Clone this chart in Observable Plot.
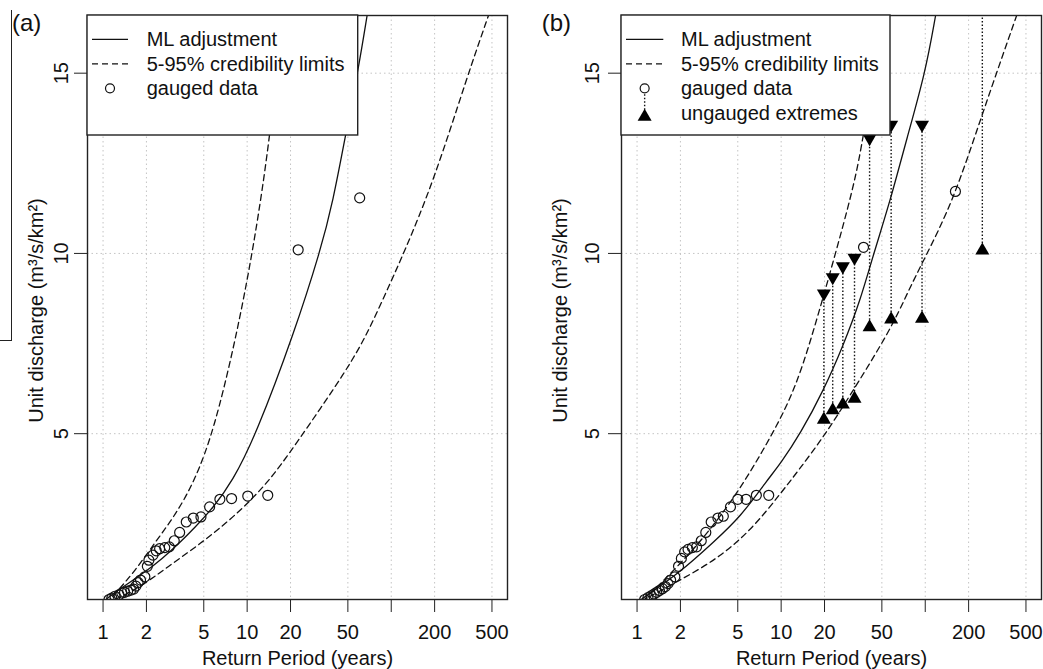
<!DOCTYPE html>
<html><head><meta charset="utf-8">
<script src="https://cdn.jsdelivr.net/npm/d3@7"></script>
<script src="https://cdn.jsdelivr.net/npm/@observablehq/plot@0.6"></script>
<style>
body{margin:0;background:#fff;font-family:"Liberation Sans",Arial,sans-serif;}
#wrap{position:relative;width:1043px;height:669px;overflow:hidden;background:#fff;}
#pa{position:absolute;left:0;top:0;}
#pb{position:absolute;left:520px;top:0;}
.artifact{position:absolute;left:0;top:10px;width:11px;height:330px;border-right:1.3px solid #222;border-bottom:1.3px solid #222;}
</style></head><body>
<div id="wrap"><div id="pa"></div><div id="pb"></div><div class="artifact"></div></div>
<script>
// ---- axis ticks ----
const xTicks = [1, 2, 5, 10, 20, 50, 100, 200, 500];
const xTickLabels = ["1", "2", "5", "10", "20", "50", "", "200", "500"];
const yTicks = [5, 10, 15];
const xLabel = "Return Period (years)";
const yLabel = "Unit discharge (m³/s/km²)";
const legendLabels = ["ML adjustment", "5-95% credibility limits", "gauged data", "ungauged extremes"];

// ---- panel (a) ----
const gaugedA_T = [60.4, 22.6, 13.9, 10.1, 7.8, 6.47, 5.49, 4.78, 4.23, 3.78, 3.40, 3.12, 2.88, 2.68, 2.47, 2.34, 2.22, 2.08, 2.03, 1.95, 1.82, 1.75, 1.69, 1.63, 1.56, 1.48, 1.41, 1.35, 1.29, 1.21, 1.15, 1.10];
const gaugedA_Q = [11.54, 10.1, 3.29, 3.27, 3.2, 3.18, 2.97, 2.69, 2.66, 2.55, 2.26, 2.03, 1.86, 1.84, 1.81, 1.75, 1.63, 1.49, 1.32, 1.03, 0.94, 0.87, 0.77, 0.69, 0.66, 0.63, 0.6, 0.58, 0.53, 0.49, 0.44, 0.4];
const mlA_T = [1.01, 1.04, 1.98, 2.58, 3.36, 4.39, 5.73, 7.88, 11.6, 21.1, 32.3, 39.5, 48.1, 59.4, 68];
const mlA_Q = [0.3, 0.43, 1.17, 1.54, 1.95, 2.42, 2.92, 3.66, 5.0, 7.77, 10.08, 11.46, 13.26, 15.16, 16.6];
const upA_T = [1.05, 1.22, 1.68, 2.33, 3.2, 4.35, 5.87, 8.3, 11.1, 14.5, 17.5];
const upA_Q = [0.3, 0.57, 1.21, 2.02, 2.76, 3.71, 5.09, 7.58, 10.17, 13.26, 16.6];
const loA_T = [1.05, 1.19, 1.82, 2.8, 4.75, 8.09, 13.8, 21.1, 50, 70, 99, 122, 197, 335, 473];
const loA_Q = [0.3, 0.38, 0.75, 1.3, 1.95, 2.69, 3.61, 4.63, 6.8, 7.86, 9.2, 10.0, 12.0, 14.88, 16.6];

// ---- panel (b) ----
const gaugedB_T = [162, 37.3, 8.2, 6.73, 5.71, 5.0, 4.45, 3.97, 3.64, 3.27, 3.0, 2.79, 2.59, 2.42, 2.26, 2.14, 2.03, 1.94, 1.83, 1.71, 1.64, 1.57, 1.5, 1.43, 1.37, 1.31, 1.25, 1.19, 1.13];
const gaugedB_Q = [11.72, 10.17, 3.29, 3.29, 3.18, 3.18, 2.97, 2.71, 2.66, 2.55, 2.26, 2.03, 1.86, 1.84, 1.79, 1.72, 1.54, 1.32, 1.03, 0.94, 0.84, 0.76, 0.7, 0.65, 0.6, 0.55, 0.5, 0.45, 0.4];
const mlB_T = [1.02, 1.06, 1.95, 3.41, 5.22, 8.0, 9.9, 13.6, 19.7, 27, 35.4, 43.8, 57.2, 74.6, 100, 118];
const mlB_Q = [0.33, 0.4, 1.12, 2.0, 2.69, 3.71, 4.17, 5.0, 6.2, 7.45, 8.69, 9.99, 11.46, 13.2, 15.0, 16.6];
const upB_T = [1.1, 1.24, 2.01, 3.07, 4.96, 8.0, 12.2, 16.4, 23.1, 31.8, 37.3, 50];
const upB_Q = [0.35, 0.57, 1.4, 2.23, 3.34, 4.72, 6.11, 7.7, 9.8, 11.83, 13.22, 16.6];
const loB_T = [1.06, 1.12, 2.0, 3.8, 6.46, 9.9, 13.2, 20, 28.6, 57.2, 76.5, 97.2, 157, 253, 431];
const loB_Q = [0.33, 0.4, 0.94, 1.58, 2.41, 3.34, 3.98, 4.95, 5.92, 7.86, 8.97, 9.8, 11.46, 13.96, 16.6];
const ungT  = [19.8, 22.8, 26.8, 32.3, 41.1, 58, 95, 249];
const ungLo = [5.39, 5.65, 5.81, 5.97, 7.95, 8.17, 8.19, 10.08];
const ungHi = [8.89, 9.34, 9.64, 9.88, 13.2, 13.57, 13.57, 18];

const FONT = '"Liberation Sans", Arial, Helvetica, sans-serif';
const tbl = (T, Q) => T.map((t, i) => ({T: t, q: Q[i]}));

function panel(cfg) {
  const marks = [
    Plot.gridX(xTicks, {stroke: "#c4c4c4", strokeOpacity: 1, strokeDasharray: "1.5,3", strokeWidth: 1}),
    Plot.gridY(yTicks, {stroke: "#c4c4c4", strokeOpacity: 1, strokeDasharray: "1.5,3", strokeWidth: 1}),
    Plot.line(tbl(cfg.mlT, cfg.mlQ), {x: "T", y: "q", stroke: "#111", strokeWidth: 1.3, curve: "basis", clip: true}),
    Plot.line(tbl(cfg.upT, cfg.upQ), {x: "T", y: "q", stroke: "#111", strokeWidth: 1.3, strokeDasharray: "6,4", curve: "basis", clip: true}),
    Plot.line(tbl(cfg.loT, cfg.loQ), {x: "T", y: "q", stroke: "#111", strokeWidth: 1.3, strokeDasharray: "6,4", curve: "basis", clip: true}),
  ];
  if (cfg.ung) {
    const u = cfg.ung.T.map((t, i) => ({T: t, lo: cfg.ung.lo[i], hi: cfg.ung.hi[i]}));
    marks.push(
      Plot.ruleX(u, {x: "T", y1: "lo", y2: "hi", stroke: "#111", strokeWidth: 1.4, strokeDasharray: "1.5,2", clip: true}),
      Plot.dot(u, {x: "T", y: "lo", symbol: "triangle", r: 5.2, fill: "#000", stroke: "none", clip: true}),
      Plot.dot(u, {x: "T", y: "hi", symbol: "triangle", rotate: 180, r: 5.2, fill: "#000", stroke: "none", clip: true})
    );
  }
  marks.push(
    Plot.dot(tbl(cfg.gT, cfg.gQ), {x: "T", y: "q", r: 5, stroke: "#111", strokeWidth: 1.2, fill: "none", clip: true}),
    Plot.axisX({ticks: xTicks, tickSize: 13, tickFormat: () => "", label: null, stroke: "#222"}),
    Plot.axisY({ticks: yTicks, tickSize: 13, tickFormat: () => "", label: null, stroke: "#222"}),
    Plot.text(xTicks, {x: d => d, text: (d, i) => xTickLabels[i], frameAnchor: "bottom", dy: 33, textAnchor: "middle", lineAnchor: "middle", fontSize: 20, fill: "#111"}),
    Plot.text(yTicks, {y: d => d, text: d => String(d), frameAnchor: "left", dx: -cfg.yTickOff, rotate: -90, textAnchor: "middle", lineAnchor: "middle", fontSize: 20, fill: "#111"}),
    Plot.text([xLabel], {text: d => d, frameAnchor: "bottom", dy: 59, textAnchor: "middle", lineAnchor: "middle", fontSize: 20, fill: "#111"}),
    Plot.text([yLabel], {text: d => d, frameAnchor: "left", dx: -cfg.yLabOff, dy: 3, rotate: -90, textAnchor: "middle", lineAnchor: "middle", fontSize: 20, fill: "#111"}),
    Plot.frame({stroke: "#222", strokeWidth: 1.4})
  );
  const svg = Plot.plot({
    width: cfg.width, height: 669,
    marginLeft: cfg.ml, marginRight: cfg.mr, marginTop: 15, marginBottom: 70,
    x: {type: "log", domain: [0.78, 641]},
    y: {domain: [0.4, 16.6]},
    style: {fontFamily: FONT, fontSize: "20px", background: "transparent", color: "#111"},
    marks
  });
  // legend box (drawn over the plot, like R's legend())
  const s = d3.select(svg);
  const L = cfg.legend;
  const g = s.append("g").attr("font-family", FONT).attr("font-size", 20).attr("fill", "#111").attr("text-anchor", "start");
  g.append("rect").attr("x", L.x0).attr("y", 15).attr("width", L.x1 - L.x0).attr("height", 120)
    .attr("fill", "white").attr("stroke", "#222").attr("stroke-width", 1.4);
  const rowY = i => 39.3 + i * 24.5;
  const cx = (L.s0 + L.s1) / 2;
  L.rows.forEach((lab, i) => {
    const y = rowY(i);
    if (i === 0) g.append("line").attr("x1", L.s0).attr("x2", L.s1).attr("y1", y).attr("y2", y).attr("stroke", "#111").attr("stroke-width", 1.3);
    if (i === 1) g.append("line").attr("x1", L.s0).attr("x2", L.s1).attr("y1", y).attr("y2", y).attr("stroke", "#111").attr("stroke-width", 1.3).attr("stroke-dasharray", "6,4");
    if (i === 2) g.append("circle").attr("cx", cx).attr("cy", y).attr("r", 4.5).attr("fill", "none").attr("stroke", "#111").attr("stroke-width", 1.2);
    if (i === 3) {
      g.append("line").attr("x1", cx).attr("x2", cx).attr("y1", rowY(2) + 6).attr("y2", y).attr("stroke", "#111").attr("stroke-width", 1.4).attr("stroke-dasharray", "1.5,2");
      g.append("path").attr("d", d3.symbol(d3.symbolTriangle, Math.PI * 5.2 * 5.2)()).attr("transform", `translate(${cx},${y + 4})`).attr("fill", "#000");
    }
    g.append("text").attr("x", L.tx).attr("y", y + 7).attr("text-anchor", "start").text(lab);
  });
  s.append("text").attr("x", cfg.tagX).attr("y", 31).attr("text-anchor", "start").attr("font-family", FONT).attr("font-size", 24).attr("fill", "#111").text(cfg.tag);
  return svg;
}

document.getElementById("pa").appendChild(panel({
  width: 520, ml: 87, mr: 13, yTickOff: 26, yLabOff: 51,
  gT: gaugedA_T, gQ: gaugedA_Q, mlT: mlA_T, mlQ: mlA_Q, upT: upA_T, upQ: upA_Q, loT: loA_T, loQ: loA_Q,
  legend: {x0: 87, x1: 357.7, s0: 92, s1: 128, tx: 146.7, rows: legendLabels.slice(0, 3)},
  tag: "(a)", tagX: 12
}));
document.getElementById("pb").appendChild(panel({
  width: 523, ml: 101, mr: 2, yTickOff: 29, yLabOff: 61,
  gT: gaugedB_T, gQ: gaugedB_Q, mlT: mlB_T, mlQ: mlB_Q, upT: upB_T, upQ: upB_Q, loT: loB_T, loQ: loB_Q,
  ung: {T: ungT, lo: ungLo, hi: ungHi},
  legend: {x0: 101, x1: 370, s0: 106, s1: 143.3, tx: 161, rows: legendLabels},
  tag: "(b)", tagX: 21.7
}));
</script>
</body></html>
